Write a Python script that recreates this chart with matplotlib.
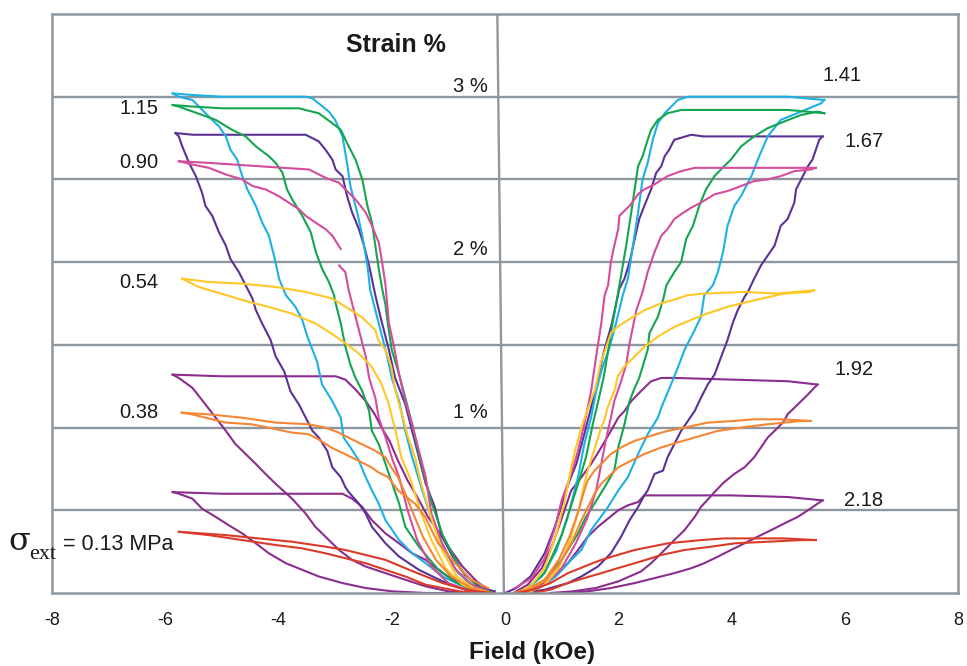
import matplotlib
matplotlib.use("Agg")
import matplotlib.pyplot as plt

nan = float("nan")

# ---------------- data (Field kOe, Strain %) ----------------
# each level: [left outer, left inner, right inner, right outer]
s013_x = [[-5.76, -5.23, -4.64, -4.05, -3.58, -3.17, -2.82, -2.46, -2.11, -1.76, -1.40, -1.1, -0.8, -0.5],
          [-5.76, -4.93, -4.35, -3.76, -3.17, -2.82, -2.46, -2.11, -1.76, -1.40, -1.1, -0.8, -0.5, -0.2],
          [5.49, 4.93, 4.35, 3.87, 3.46, 3.17, 2.87, 2.58, 2.29, 1.99, 1.70, 1.40, 1.11, 0.8, 0.5, 0.2],
          [5.49, 5.23, 4.64, 4.05, 3.64, 3.17, 2.76, 2.58, 2.29, 1.99, 1.70, 1.40, 1.11, 0.8, 0.5]]
s013_y = [[0.37, 0.35, 0.32, 0.29, 0.27, 0.24, 0.21, 0.18, 0.14, 0.10, 0.05, 0.03, 0.01, 0.0],
          [0.37, 0.35, 0.33, 0.31, 0.28, 0.26, 0.23, 0.20, 0.15, 0.10, 0.06, 0.03, 0.01, 0.0],
          [0.32, 0.33, 0.33, 0.33, 0.32, 0.31, 0.30, 0.28, 0.26, 0.23, 0.20, 0.16, 0.12, 0.06, 0.02, 0.0],
          [0.32, 0.32, 0.31, 0.30, 0.28, 0.26, 0.23, 0.21, 0.18, 0.15, 0.12, 0.09, 0.06, 0.02, 0.0]]

s038_x = [[-5.71, -5.53, -4.93, -4.48, -4.18, -3.77, -3.47, -3.30, -3.07, -2.89, -2.59, -2.36, -2.24, -2.06, -1.89, -1.59, -1.41, -1.18, -0.88, -0.6, -0.3],
          [-5.71, -5.23, -4.65, -4.05, -3.47, -3.17, -2.94, -2.71, -2.47, -2.29, -2.11, -2.01, -1.89, -1.76, -1.62, -1.45, -1.22, -0.95, -0.6, -0.3],
          [5.40, 4.87, 4.40, 4.05, 3.58, 3.17, 2.87, 2.58, 2.29, 2.05, 1.87, 1.70, 1.58, 1.46, 1.40, 1.3, 1.15, 0.95, 0.7, 0.4, 0.15],
          [5.40, 5.23, 4.64, 4.17, 3.76, 3.35, 3.05, 2.76, 2.46, 2.23, 2.0, 1.82, 1.70, 1.58, 1.35, 1.17, 0.95, 0.7, 0.4, 0.2]]
s038_y = [[1.09, 1.08, 1.03, 1.02, 1.0, 0.97, 0.96, 0.93, 0.88, 0.85, 0.80, 0.76, 0.73, 0.70, 0.62, 0.54, 0.46, 0.30, 0.18, 0.08, 0.03],
          [1.09, 1.08, 1.06, 1.03, 1.02, 1.0, 0.97, 0.93, 0.89, 0.86, 0.82, 0.76, 0.70, 0.60, 0.48, 0.34, 0.20, 0.10, 0.03, 0.0],
          [1.04, 1.05, 1.05, 1.04, 1.03, 1.0, 0.98, 0.95, 0.92, 0.88, 0.84, 0.78, 0.74, 0.68, 0.62, 0.5, 0.35, 0.2, 0.08, 0.02, 0.0],
          [1.04, 1.04, 1.02, 1.0, 0.98, 0.94, 0.91, 0.88, 0.84, 0.80, 0.76, 0.70, 0.66, 0.60, 0.44, 0.30, 0.17, 0.07, 0.02, 0.0]]

s054_x = [[-5.70, -5.41, -4.53, -4.18, -3.77, -3.35, -3.07, -2.82, -2.59, -2.36, -2.19, -2.06, -1.94, -1.83, -1.66, -1.5, -1.3, -1.05, -0.75, -0.4],
          [-5.70, -5.23, -4.64, -4.05, -3.52, -3.05, -2.77, -2.54, -2.29, -2.24, -2.11, -2.01, -1.94, -1.83, -1.71, -1.59, -1.48, -1.3, -1.1, -0.85, -0.55, -0.25],
          [5.46, 4.81, 4.23, 3.52, 3.22, 3.05, 2.75, 2.47, 2.17, 1.99, 1.87, 1.81, 1.69, 1.64, 1.59, 1.46, 1.34, 1.23, 1.16, 1.05, 0.9, 0.7, 0.45, 0.2],
          [5.46, 5.39, 4.93, 4.41, 3.93, 3.58, 3.28, 3.0, 2.70, 2.47, 2.29, 2.11, 1.99, 1.94, 1.81, 1.76, 1.69, 1.59, 1.46, 1.41, 1.3, 1.15, 0.95, 0.7, 0.4]]
s054_y = [[1.90, 1.85, 1.76, 1.73, 1.69, 1.63, 1.57, 1.51, 1.45, 1.37, 1.27, 1.15, 0.99, 0.82, 0.68, 0.50, 0.32, 0.15, 0.05, 0.0],
          [1.90, 1.88, 1.87, 1.85, 1.82, 1.78, 1.72, 1.67, 1.59, 1.53, 1.47, 1.37, 1.23, 1.09, 0.94, 0.82, 0.66, 0.45, 0.25, 0.10, 0.03, 0.0],
          [1.83, 1.81, 1.82, 1.81, 1.80, 1.78, 1.75, 1.71, 1.65, 1.61, 1.57, 1.51, 1.39, 1.31, 1.23, 1.11, 0.99, 0.85, 0.74, 0.55, 0.35, 0.15, 0.04, 0.0],
          [1.83, 1.82, 1.81, 1.77, 1.73, 1.69, 1.65, 1.61, 1.55, 1.49, 1.43, 1.37, 1.31, 1.23, 1.12, 1.05, 0.99, 0.88, 0.74, 0.67, 0.50, 0.32, 0.15, 0.05, 0.0]]

s090_x = [[-5.76, -5.52, -5.23, -4.93, -4.64, -4.46, -4.23, -4.0, -3.82, -3.64, -3.52, -3.35, -3.17, -3.05, -2.90, nan, -2.93, -2.82, -2.76, -2.64, -2.58, -2.46, -2.40, -2.29, -2.23, -2.11, -2.0, -1.87, -1.72, -1.55, -1.3, -1.0, -0.6],
          [-5.76, -5.23, -4.35, -3.46, -3.17, -2.93, -2.82, -2.64, -2.46, -2.35, -2.23, -2.17, -2.11, -2.05, -1.96, -1.87, -1.76, -1.64, -1.52, -1.40, -1.30, -1.12, -0.89, -0.59, -0.30],
          [5.49, 4.5, 3.35, 3.11, 2.87, 2.64, 2.46, 2.35, 2.20, 2.08, 2.02, 2.0, 1.93, 1.87, 1.82, 1.76, 1.70, 1.61, 1.52, 1.40, 1.29, 1.17, 1.0, 0.88, 0.70, 0.47, 0.18],
          [5.49, 5.40, 5.11, 4.87, 4.64, 4.40, 4.17, 3.93, 3.70, 3.46, 3.29, 3.11, 2.99, 2.87, 2.76, 2.64, 2.52, 2.43, 2.32, 2.26, 2.20, 2.14, 2.05, 1.93, 1.87, 1.79, 1.70, 1.61, 1.45, 1.25, 1.0, 0.7, 0.4]]
s090_y = [[2.61, 2.59, 2.57, 2.53, 2.50, 2.46, 2.44, 2.40, 2.36, 2.32, 2.28, 2.24, 2.20, 2.16, 2.08, nan, 1.98, 1.94, 1.83, 1.67, 1.59, 1.43, 1.30, 1.18, 1.06, 0.94, 0.82, 0.70, 0.50, 0.32, 0.16, 0.06, 0.01],
          [2.61, 2.60, 2.58, 2.56, 2.51, 2.48, 2.44, 2.38, 2.30, 2.22, 2.12, 2.0, 1.86, 1.63, 1.49, 1.32, 1.16, 1.02, 0.86, 0.70, 0.48, 0.31, 0.15, 0.05, 0.01],
          [2.57, 2.57, 2.57, 2.55, 2.52, 2.47, 2.44, 2.41, 2.34, 2.30, 2.28, 2.20, 2.10, 2.0, 1.86, 1.80, 1.63, 1.43, 1.22, 1.02, 0.86, 0.72, 0.56, 0.39, 0.21, 0.09, 0.03],
          [2.57, 2.56, 2.55, 2.52, 2.50, 2.49, 2.46, 2.43, 2.41, 2.36, 2.33, 2.29, 2.26, 2.20, 2.16, 2.06, 1.94, 1.82, 1.71, 1.61, 1.51, 1.38, 1.28, 1.16, 1.06, 0.94, 0.78, 0.62, 0.45, 0.30, 0.15, 0.05, 0.01]]

s115_x = [[-5.87, -5.76, -5.35, -5.11, -4.82, -4.58, -4.40, -4.17, -4.05, -3.93, -3.85, -3.76, -3.58, -3.43, -3.34, -3.23, -3.11, -3.02, -2.99, -2.90, -2.82, -2.73, -2.64, -2.52, -2.40, -2.35, -2.23, -2.11, -2.03, -1.87, -1.76, -1.52, -1.2, -0.9, -0.6, -0.3],
          [-5.87, -5.5, -5.0, -4.5, -4.0, -3.64, -3.29, -3.05, -2.90, -2.79, -2.64, -2.52, -2.43, -2.35, -2.29, -2.23, -2.17, -2.11, -2.07, -2.0, -1.87, -1.76, -1.64, -1.55, -1.46, -1.3, -1.1, -0.8, -0.5, -0.2],
          [5.64, 5.0, 4.5, 4.0, 3.5, 3.11, 2.87, 2.70, 2.58, 2.52, 2.43, 2.35, 2.29, 2.22, 2.14, 2.06, 1.98, 1.90, 1.82, 1.74, 1.66, 1.55, 1.43, 1.29, 1.0, 0.7, 0.4, 0.2],
          [5.64, 5.52, 5.23, 4.93, 4.64, 4.40, 4.17, 3.99, 3.87, 3.70, 3.55, 3.43, 3.32, 3.20, 3.11, 2.99, 2.85, 2.79, 2.70, 2.55, 2.52, 2.37, 2.29, 2.20, 2.11, 2.0, 1.93, 1.76, 1.58, 1.43, 1.29, 1.0, 0.7, 0.4, 0.2]]
s115_y = [[2.95, 2.94, 2.89, 2.86, 2.80, 2.76, 2.70, 2.64, 2.60, 2.54, 2.44, 2.38, 2.28, 2.18, 2.06, 1.96, 1.88, 1.80, 1.75, 1.63, 1.49, 1.38, 1.30, 1.22, 1.10, 0.98, 0.90, 0.78, 0.70, 0.54, 0.40, 0.28, 0.15, 0.07, 0.02, 0.0],
          [2.95, 2.94, 2.93, 2.93, 2.93, 2.93, 2.90, 2.84, 2.80, 2.72, 2.62, 2.50, 2.34, 2.24, 2.10, 1.96, 1.84, 1.74, 1.63, 1.47, 1.32, 1.18, 1.02, 0.88, 0.76, 0.55, 0.35, 0.15, 0.04, 0.0],
          [2.90, 2.92, 2.92, 2.92, 2.92, 2.92, 2.90, 2.86, 2.80, 2.74, 2.64, 2.58, 2.44, 2.28, 2.10, 1.94, 1.78, 1.63, 1.46, 1.30, 1.18, 1.02, 0.82, 0.66, 0.35, 0.12, 0.03, 0.0],
          [2.90, 2.91, 2.89, 2.85, 2.81, 2.76, 2.70, 2.62, 2.58, 2.52, 2.44, 2.34, 2.22, 2.14, 2.0, 1.94, 1.86, 1.77, 1.67, 1.57, 1.47, 1.30, 1.24, 1.16, 1.02, 0.88, 0.74, 0.64, 0.54, 0.46, 0.36, 0.2, 0.08, 0.02, 0.0]]

s141_x = [[-5.87, -5.76, -5.52, -5.23, -5.05, -4.93, -4.85, -4.73, -4.64, -4.55, -4.40, -4.29, -4.17, -4.08, -3.99, -3.87, -3.70, -3.58, -3.49, -3.40, -3.32, -3.23, -3.05, -2.90, -2.85, -2.73, -2.58, -2.46, -2.35, -2.23, -2.11, -1.87, -1.64, -1.40, -1.1, -0.8, -0.5, -0.25],
          [-5.87, -5.5, -5.0, -4.5, -4.0, -3.52, -3.40, -3.29, -3.11, -3.0, -2.87, -2.79, -2.73, -2.61, -2.52, -2.43, -2.38, -2.29, -2.2, -2.08, -2.0, -1.87, -1.76, -1.64, -1.46, -1.3, -1.1, -0.85, -0.6, -0.3],
          [5.64, 5.0, 4.5, 4.0, 3.5, 3.23, 3.05, 2.82, 2.70, 2.61, 2.52, 2.43, 2.35, 2.26, 2.17, 2.08, 1.96, 1.85, 1.70, 1.61, 1.52, 1.40, 1.29, 1.1, 0.9, 0.65, 0.4, 0.2],
          [5.64, 5.58, 5.23, 4.87, 4.64, 4.49, 4.35, 4.17, 4.05, 3.93, 3.85, 3.76, 3.67, 3.52, 3.46, 3.35, 3.17, 3.05, 2.93, 2.76, 2.70, 2.52, 2.35, 2.17, 2.0, 1.82, 1.52, 1.35, 1.17, 0.9, 0.65, 0.4]]
s141_y = [[3.02, 3.0, 2.98, 2.88, 2.82, 2.76, 2.68, 2.62, 2.52, 2.44, 2.34, 2.24, 2.16, 2.04, 1.90, 1.80, 1.73, 1.65, 1.55, 1.47, 1.40, 1.26, 1.16, 1.06, 0.94, 0.88, 0.80, 0.70, 0.62, 0.54, 0.44, 0.32, 0.24, 0.18, 0.1, 0.05, 0.02, 0.0],
          [3.02, 3.01, 3.0, 3.0, 3.0, 3.0, 2.99, 2.96, 2.91, 2.86, 2.76, 2.60, 2.46, 2.30, 2.16, 1.98, 1.83, 1.71, 1.59, 1.43, 1.30, 1.16, 0.98, 0.82, 0.62, 0.45, 0.28, 0.13, 0.05, 0.0],
          [2.98, 3.0, 3.0, 3.0, 3.0, 3.0, 2.98, 2.90, 2.84, 2.74, 2.60, 2.50, 2.30, 2.10, 1.90, 1.80, 1.63, 1.49, 1.34, 1.22, 1.06, 0.90, 0.70, 0.45, 0.25, 0.1, 0.03, 0.0],
          [2.98, 2.96, 2.91, 2.86, 2.76, 2.64, 2.52, 2.40, 2.34, 2.22, 2.06, 1.94, 1.86, 1.80, 1.67, 1.59, 1.47, 1.36, 1.26, 1.12, 1.06, 0.96, 0.84, 0.70, 0.62, 0.52, 0.38, 0.26, 0.20, 0.1, 0.04, 0.0]]

s167_x = [[-5.82, -5.76, -5.70, -5.58, -5.46, -5.35, -5.29, -5.17, -5.05, -4.93, -4.85, -4.70, -4.58, -4.46, -4.40, -4.29, -4.14, -4.05, -3.90, -3.79, -3.64, -3.52, -3.40, -3.29, -3.14, -3.05, -2.90, -2.82, -2.76, -2.58, -2.46, -2.35, -2.11, -1.87, -1.52, -1.1, -0.7, -0.3],
          [-5.82, -5.5, -5.0, -4.5, -4.0, -3.52, -3.29, -3.17, -3.05, -2.99, -2.87, -2.79, -2.70, -2.58, -2.49, -2.40, -2.29, -2.20, -2.05, -1.94, -1.76, -1.64, -1.52, -1.40, -1.24, -1.12, -0.94, -0.71, -0.41, -0.18],
          [5.61, 5.0, 4.5, 4.0, 3.5, 3.29, 2.99, 2.90, 2.82, 2.76, 2.67, 2.58, 2.46, 2.37, 2.29, 2.20, 2.11, 2.02, 1.88, 1.74, 1.63, 1.52, 1.40, 1.26, 1.14, 1.02, 0.88, 0.70, 0.45, 0.2, 0.0],
          [5.61, 5.55, 5.49, 5.43, 5.35, 5.23, 5.14, 5.11, 4.99, 4.87, 4.76, 4.64, 4.52, 4.40, 4.29, 4.23, 4.11, 4.02, 3.93, 3.82, 3.70, 3.58, 3.46, 3.35, 3.23, 3.11, 2.99, 2.87, 2.79, 2.64, 2.52, 2.46, 2.35, 2.20, 2.05, 1.87, 1.64, 1.35, 1.11, 0.7, 0.3]]
s167_y = [[2.78, 2.76, 2.70, 2.60, 2.52, 2.42, 2.34, 2.28, 2.18, 2.10, 2.02, 1.94, 1.86, 1.78, 1.71, 1.63, 1.53, 1.43, 1.34, 1.22, 1.14, 1.06, 0.98, 0.94, 0.86, 0.76, 0.70, 0.64, 0.61, 0.54, 0.48, 0.40, 0.30, 0.22, 0.14, 0.07, 0.02, 0.0],
          [2.78, 2.77, 2.77, 2.77, 2.77, 2.77, 2.73, 2.68, 2.62, 2.56, 2.52, 2.40, 2.30, 2.20, 2.10, 1.98, 1.80, 1.67, 1.47, 1.30, 1.14, 0.98, 0.82, 0.66, 0.52, 0.35, 0.23, 0.11, 0.03, 0.01],
          [2.76, 2.76, 2.76, 2.76, 2.76, 2.77, 2.74, 2.68, 2.64, 2.58, 2.54, 2.44, 2.34, 2.26, 2.14, 2.0, 1.90, 1.84, 1.62, 1.45, 1.27, 1.12, 0.96, 0.78, 0.68, 0.55, 0.40, 0.24, 0.10, 0.03, 0.0],
          [2.76, 2.74, 2.68, 2.62, 2.58, 2.50, 2.44, 2.36, 2.26, 2.22, 2.10, 2.04, 1.98, 1.90, 1.82, 1.79, 1.71, 1.63, 1.53, 1.43, 1.32, 1.26, 1.18, 1.10, 1.04, 0.98, 0.90, 0.82, 0.74, 0.72, 0.62, 0.59, 0.52, 0.44, 0.34, 0.24, 0.16, 0.10, 0.06, 0.02, 0.0]]

s192_x = [[-5.87, -5.76, -5.52, -5.29, -5.11, -4.93, -4.76, -4.58, -4.40, -4.23, -4.05, -3.76, -3.52, -3.35, -3.17, -2.93, -2.70, -2.46, -2.11, -1.76, -1.40, -1.0, -0.6],
          [-5.87, -5.0, -4.0, -2.99, -2.82, -2.64, -2.46, -2.30, -2.18, -2.04, -1.89, -1.72, -1.55, -1.36, -1.15, -1.0, -0.75, -0.5, -0.25],
          [5.52, 5.0, 4.0, 3.0, 2.76, 2.58, 2.40, 2.23, 2.11, 2.0, 1.87, 1.70, 1.52, 1.35, 1.17, 1.0, 0.85, 0.65, 0.4, 0.15],
          [5.52, 5.46, 5.35, 5.23, 5.11, 4.99, 4.93, 4.82, 4.64, 4.52, 4.40, 4.23, 4.05, 3.87, 3.70, 3.46, 3.35, 3.17, 2.99, 2.76, 2.58, 2.4, 2.0, 1.6, 1.2, 0.8]]
s192_y = [[1.32, 1.30, 1.24, 1.14, 1.06, 0.98, 0.90, 0.84, 0.78, 0.72, 0.66, 0.57, 0.48, 0.40, 0.34, 0.26, 0.20, 0.16, 0.12, 0.08, 0.04, 0.01, 0.0],
          [1.32, 1.31, 1.31, 1.31, 1.29, 1.23, 1.16, 1.08, 1.0, 0.92, 0.80, 0.68, 0.58, 0.46, 0.36, 0.28, 0.16, 0.07, 0.01],
          [1.26, 1.28, 1.29, 1.30, 1.30, 1.28, 1.22, 1.16, 1.10, 1.06, 0.98, 0.88, 0.78, 0.70, 0.62, 0.45, 0.30, 0.15, 0.05, 0.0],
          [1.26, 1.24, 1.20, 1.16, 1.12, 1.08, 1.04, 1.0, 0.94, 0.88, 0.82, 0.76, 0.72, 0.67, 0.61, 0.52, 0.46, 0.38, 0.32, 0.24, 0.18, 0.13, 0.07, 0.03, 0.01, 0.0]]

s218_x = [[-5.87, -5.76, -5.52, -5.35, -5.11, -4.88, -4.64, -4.40, -4.17, -3.87, -3.58, -3.29, -2.87, -2.46, -1.99, -1.40, -0.8],
          [-5.87, -5.0, -4.0, -2.87, -2.70, -2.52, -2.35, -2.11, -1.87, -1.64, -1.40, -1.1, -0.8, -0.5, -0.2],
          [5.61, 5.0, 4.0, 3.0, 2.46, 2.35, 2.17, 2.0, 1.82, 1.64, 1.46, 1.29, 1.11, 0.85, 0.6, 0.3],
          [5.61, 5.52, 5.35, 5.17, 4.93, 4.70, 4.46, 4.23, 3.99, 3.76, 3.52, 3.29, 2.99, 2.64, 2.29, 1.87, 1.46, 1.11]]
s218_y = [[0.61, 0.60, 0.57, 0.51, 0.46, 0.41, 0.36, 0.30, 0.24, 0.18, 0.14, 0.10, 0.06, 0.03, 0.01, 0.0, 0.0],
          [0.61, 0.60, 0.60, 0.60, 0.57, 0.52, 0.44, 0.36, 0.30, 0.24, 0.20, 0.12, 0.06, 0.02, 0.0],
          [0.56, 0.58, 0.59, 0.59, 0.59, 0.55, 0.53, 0.50, 0.45, 0.40, 0.34, 0.26, 0.18, 0.10, 0.04, 0.0],
          [0.56, 0.54, 0.50, 0.46, 0.42, 0.38, 0.34, 0.30, 0.26, 0.22, 0.18, 0.15, 0.12, 0.09, 0.06, 0.03, 0.01, 0.0]]

# labels
left_labels = ["1.15", "0.90", "0.54", "0.38"]
left_label_y = [2.896, 2.57, 1.844, 1.058]
right_labels = ["1.41", "1.67", "1.92", "2.18"]
right_label_x = [5.96, 6.34, 6.17, 6.34]
right_label_y = [3.095, 2.698, 1.318, 0.526]
pct_labels = ["3 %", "2 %", "1 %"]
pct_label_y = [3.03, 2.044, 1.058]
xticks = [-8, -6, -4, -2, 0, 2, 4, 6, 8]
xtick_labels = ["-8", "-6", "-4", "-2", "0", "2", "4", "6", "8"]
grid_y = [0.5, 1.0, 1.5, 2.0, 2.5, 3.0]

# ---------------- styling ----------------
plt.rcParams["font.family"] = ["Liberation Sans", "DejaVu Sans"]

GRAY = "#8e979e"
TXT = "#1a1a1a"
levels = [
    (s218_x, s218_y, "#8b2d8e"),
    (s192_x, s192_y, "#8b2d8e"),
    (s167_x, s167_y, "#5b3196"),
    (s141_x, s141_y, "#1db0e6"),
    (s115_x, s115_y, "#13a64e"),
    (s090_x, s090_y, "#d44c9c"),
    (s054_x, s054_y, "#ffc726"),
    (s038_x, s038_y, "#f58634"),
    (s013_x, s013_y, "#da3a2a"),
]

fig = plt.figure(figsize=(9.67, 6.66), dpi=100)
ax = fig.add_axes([52 / 967, 1 - 593 / 666, (958 - 52) / 967, (593 - 14) / 666])
ax.set_xlim(-8, 8)
ax.set_ylim(0, 3.5)

for gy in grid_y:
    ax.axhline(gy, color=GRAY, lw=1.7, zorder=1)
ax.plot([-0.02, -0.135], [0, 3.5], color=GRAY, lw=1.7, zorder=1)

for xs, ys, col in levels:
    for bx, by in zip(xs, ys):
        ax.plot(bx, by, color=col, lw=1.5, zorder=2, solid_joinstyle="miter")

for sp in ax.spines.values():
    sp.set_color(GRAY)
    sp.set_linewidth(1.8)

ax.set_yticks([])
ax.set_xticks(xticks)
ax.set_xticklabels(xtick_labels)
ax.tick_params(axis="x", length=0, pad=14, labelsize=13, colors=TXT)

for lab, ly in zip(left_labels, left_label_y):
    ax.text(-6.47, ly, lab, ha="center", va="baseline", fontsize=14.5, color=TXT)
for lab, lx, ly in zip(right_labels, right_label_x, right_label_y):
    ax.text(lx, ly, lab, ha="center", va="baseline", fontsize=14.5, color=TXT)
for lab, ly in zip(pct_labels, pct_label_y):
    ax.text(-0.61, ly, lab, ha="center", va="baseline", fontsize=14.5, color=TXT)

ax.text(-1.93, 3.27, "Strain %", ha="center", va="baseline", fontsize=18,
        fontweight="bold", color=TXT)

fig.text(532 / 967, 1 - 652 / 666, "Field (kOe)", ha="center", va="center",
         fontsize=17.5, fontweight="bold", color=TXT)

# sigma_ext label (upright serif sigma with serif subscript)
fig.text(8 / 967, 1 - 550 / 666, "σ", ha="left", va="baseline",
         fontsize=23, family=["DejaVu Serif"], color=TXT)
fig.text(29 / 967, 1 - 559 / 666, "ext", ha="left", va="baseline",
         fontsize=16, family=["Liberation Serif", "DejaVu Serif"], color=TXT)
fig.text(63 / 967, 1 - 550 / 666, "= 0.13 MPa", ha="left", va="baseline",
         fontsize=15.5, color=TXT)

fig.savefig("out.png", dpi=100)
